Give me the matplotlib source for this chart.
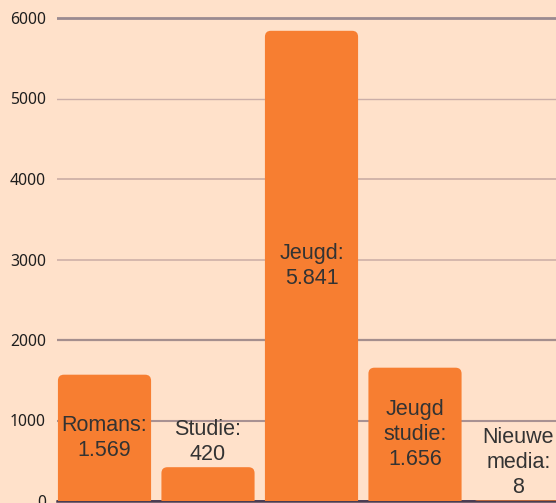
import matplotlib.pyplot as plt
from matplotlib.patches import FancyBboxPatch

categorieen = ['Romans', 'Studie', 'Jeugd', 'Jeugd\nstudie', 'Nieuwe\nmedia']
aantallen = [1569, 420, 5841, 1656, 8]
labels = ['1.569', '420', '5.841', '1.656', '8']
y_ticks = [0, 1000, 2000, 3000, 4000, 5000, 6000]

achtergrond = '#FFE1CA'
oranje = '#F77E31'
tekst_kleur = '#333333'

W, H = 556, 503
fig = plt.figure(figsize=(W / 100, H / 100), dpi=100, facecolor=achtergrond)

# assenpositie in pixels (de grafiek loopt rechts en onder buiten beeld door)
links, rechts, onder, boven = 57, 572, 2, 503
ax = fig.add_axes([links / W, onder / H, (rechts - links) / W, (boven - onder) / H])
ax.set_facecolor(achtergrond)

px_per_slot = 103.5
px_per_1000 = 80.5
x_links = (links - 104.5) / px_per_slot
x_rechts = x_links + (rechts - links) / px_per_slot
ax.set_xlim(x_links, x_rechts)
ax.set_ylim(0, (boven - onder) / px_per_1000 * 1000)

# staven met afgeronde bovenhoeken
bar_width = 0.9
x_per_px = 1 / px_per_slot
y_per_px = 1000 / px_per_1000
radius = 6 * x_per_px
staven = ax.bar(range(len(aantallen)), aantallen, width=bar_width, color=oranje, zorder=2)
for staaf in staven:
    x0, h = staaf.get_x(), staaf.get_height()
    staaf.set_visible(False)
    onderkant = -10 * y_per_px
    ax.add_patch(FancyBboxPatch((x0, onderkant), bar_width, h - onderkant,
                                boxstyle=f'round,pad=0,rounding_size={radius}',
                                mutation_aspect=y_per_px / x_per_px,
                                facecolor=oranje, edgecolor='none', zorder=2))

# labels: in de staaf als die hoog genoeg is, anders erboven
for i, (cat, lab, val) in enumerate(zip(categorieen, labels, aantallen)):
    tekst = f'{cat}:\n{lab}'
    if val > 1000:
        ax.text(i, val / 2, tekst, ha='center', va='center', fontsize=15.5,
                family='Liberation Sans', color=tekst_kleur, zorder=3, linespacing=1.27)
    else:
        ax.text(i, val + 2 * y_per_px, tekst, ha='center', va='bottom', fontsize=15.5,
                family='Liberation Sans', color=tekst_kleur, zorder=3, linespacing=1.27)

ax.set_xticks([])
ax.set_yticks(y_ticks)
ax.tick_params(axis='y', length=0, pad=8, labelsize=11.3, labelcolor='#1e1e1e')
for t in ax.get_yticklabels():
    t.set_family('Noto Sans')

# rasterlijnen, elk met een eigen kleur/dikte zoals in het origineel
ax.grid(axis='y', zorder=1)
ax.set_axisbelow(True)
stijlen = {0: ('#4a3b52', 2.0), 1000: ('#a89192', 1.5), 2000: ('#a58f8e', 1.6),
           3000: ('#d2b4aa', 1.3), 4000: ('#d2b4aa', 1.4), 5000: ('#cbaea8', 1.0),
           6000: ('#9a8a90', 2.0)}
for tick, gl in zip(y_ticks, ax.get_ygridlines()):
    kleur, lw = stijlen[tick]
    gl.set_color(kleur)
    gl.set_linewidth(lw)

for s in ['top', 'right', 'left']:
    ax.spines[s].set_visible(False)
ax.spines['bottom'].set_color('#4a3b52')
ax.spines['bottom'].set_linewidth(1.8)
ax.spines['bottom'].set_zorder(1.5)

plt.savefig('out.png', dpi=100, facecolor=achtergrond)
